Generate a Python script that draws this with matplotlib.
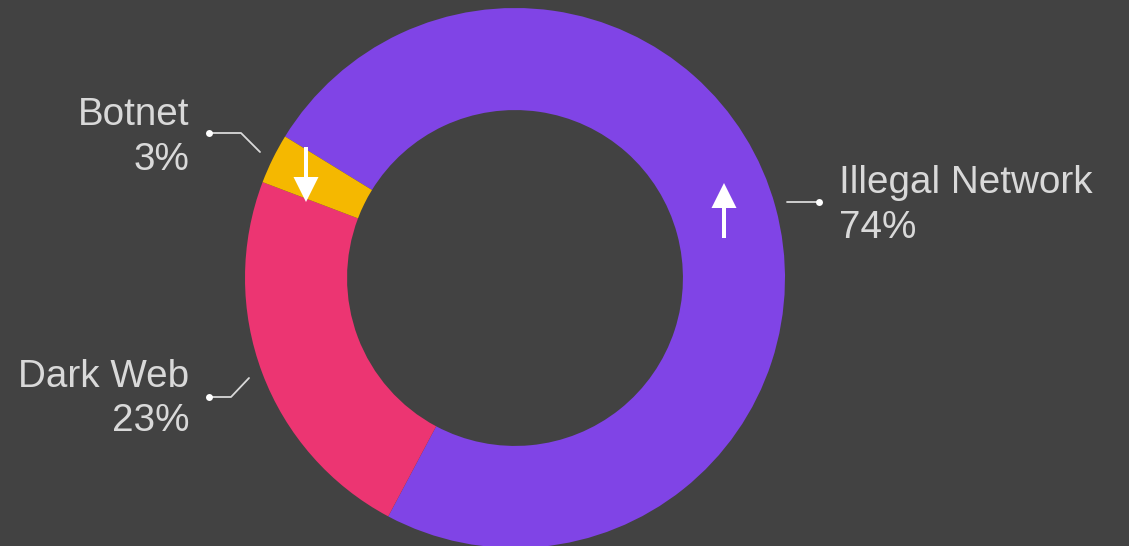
import matplotlib
matplotlib.use("Agg")
import matplotlib.pyplot as plt

# === Daten ===
labels = ["Illegal Network", "Dark Web", "Botnet"]
shares = [74, 23, 3]
colors = ["#8044E6", "#EC3572", "#F5B800"]
trend = ["up", "flat", "down"]

bg = "#424242"
txt_col = "#D9D9D9"
W, H = 1129, 546

fig = plt.figure(figsize=(W / 100, H / 100), dpi=100, facecolor=bg)
ax = fig.add_axes([0, 0, 1, 1])
ax.set_facecolor(bg)

# pixel coordinates, y measured from top -> convert
def py(y):
    return H - y

cx, cy, R = 515, py(278), 270
ax.pie(shares, colors=colors, startangle=148.4, counterclock=False,
       center=(cx, cy), radius=R, frame=True,
       wedgeprops=dict(width=R * 0.378, linewidth=0))

ax.set_xlim(0, W)
ax.set_ylim(0, H)
ax.set_aspect("equal")
ax.axis("off")

# === Trendpfeile ===
ax.arrow(724, py(238), 0, 55, width=4, head_width=25, head_length=25,
         length_includes_head=True, color="white", lw=0)
ax.arrow(306, py(147), 0, -55, width=4, head_width=25, head_length=25,
         length_includes_head=True, color="white", lw=0)

# === Beschriftungen mit Führungslinien ===
font = dict(family=["Liberation Sans", "DejaVu Sans"], fontsize=27.8, color=txt_col)

def leader(xs, ys, dot):
    ax.plot(xs, [py(y) for y in ys], color=txt_col, lw=1.3, solid_capstyle="round")
    ax.plot(dot[0], py(dot[1]), "o", color="white", ms=5, mew=0)

# Illegal Network
leader([787, 819], [202, 202], (819, 202))
ax.text(839, py(193), labels[0], ha="left", va="baseline", **font)
ax.text(839, py(238), f"{shares[0]}%", ha="left", va="baseline", **font)

# Botnet
leader([209, 241, 260], [133, 133, 152], (209, 133))
ax.text(189, py(125), labels[2], ha="right", va="baseline", **font)
ax.text(189, py(170), f"{shares[2]}%", ha="right", va="baseline", **font)

# Dark Web
leader([209, 231, 249], [397, 397, 378], (209, 397))
ax.text(189, py(387), labels[1], ha="right", va="baseline", **font)
ax.text(189, py(431), f"{shares[1]}%", ha="right", va="baseline", **font)

fig.savefig("out.png", dpi=100, facecolor=bg)
